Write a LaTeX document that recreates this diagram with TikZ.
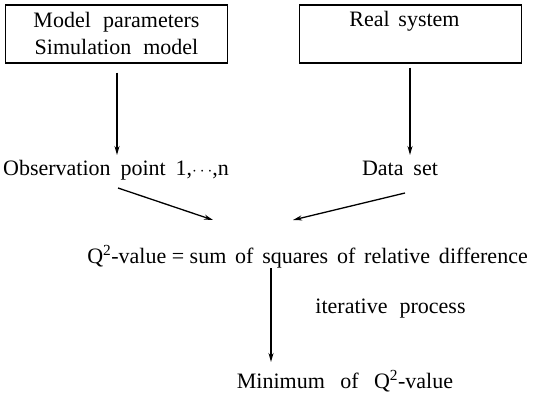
\documentclass[tikz,border=0pt]{standalone}
\usepackage{fontspec}
\setmainfont{Liberation Serif}
\usepackage{tikz}
\usetikzlibrary{arrows.meta}
\tikzset{
  box/.style={draw, line width=1.1pt, minimum width=222pt, minimum height=58pt, inner sep=0pt},
  lab/.style={font=\fontsize{22}{26}\selectfont, inner sep=0pt, anchor=base},
  flow/.style={draw, line width=1.3pt, -{Stealth[length=9pt,width=5pt]}},
}

\begin{document}
\begin{tikzpicture}[x=1pt,y=-1pt]
  \useasboundingbox (0,0) rectangle (537,396);
  % boxes
  \node[box] (model) at (116.5,34) {};
  \node[box] (real) at (410.5,34) {};
  \node[lab] (model1) at (116.5,28) {Model\hspace{0.55em}parameters};
  \node[lab] (model2) at (116.5,55) {Simulation\hspace{0.55em}model};
  \node[lab] (realtxt) at (404.5,27) {Real\hspace{0.4em}system};
  % middle row
  \node[lab] (obs) at (116,175) {Observation\hspace{0.45em}point\hspace{0.45em}1,{\fontsize{16}{16}\selectfont$\cdots$},n};
  \node[lab] (data) at (400,175) {Data\hspace{0.45em}set};
  \node[lab] (q) at (307.5,263) {Q\textsuperscript{2}-value = sum\hspace{0.4em}of\hspace{0.4em}squares\hspace{0.4em}of\hspace{0.4em}relative\hspace{0.4em}difference};
  \node[lab] (iter) at (390.5,313) {iterative\hspace{0.55em}process};
  \node[lab] (min) at (345,388) {Minimum\hspace{0.7em}of\hspace{0.7em}Q\textsuperscript{2}-value};
  % connectors
  \coordinate (a1) at (117,155);
  \coordinate (a2) at (410,155);
  \coordinate (s1) at (118,188);
  \coordinate (e1) at (213,220);
  \coordinate (s2) at (405,193);
  \coordinate (e2) at (293,220);
  \coordinate (s3) at (271,268);
  \coordinate (e3) at (271,362);
  \draw[flow] ([yshift=-9pt]model.south -| a1) -- (a1);
  \draw[flow] ([yshift=-4pt]real.south -| a2) -- (a2);
  \draw[flow] (s1) -- (e1);
  \draw[flow] (s2) -- (e2);
  \draw[flow] (s3) -- (e3);
\end{tikzpicture}
\end{document}
